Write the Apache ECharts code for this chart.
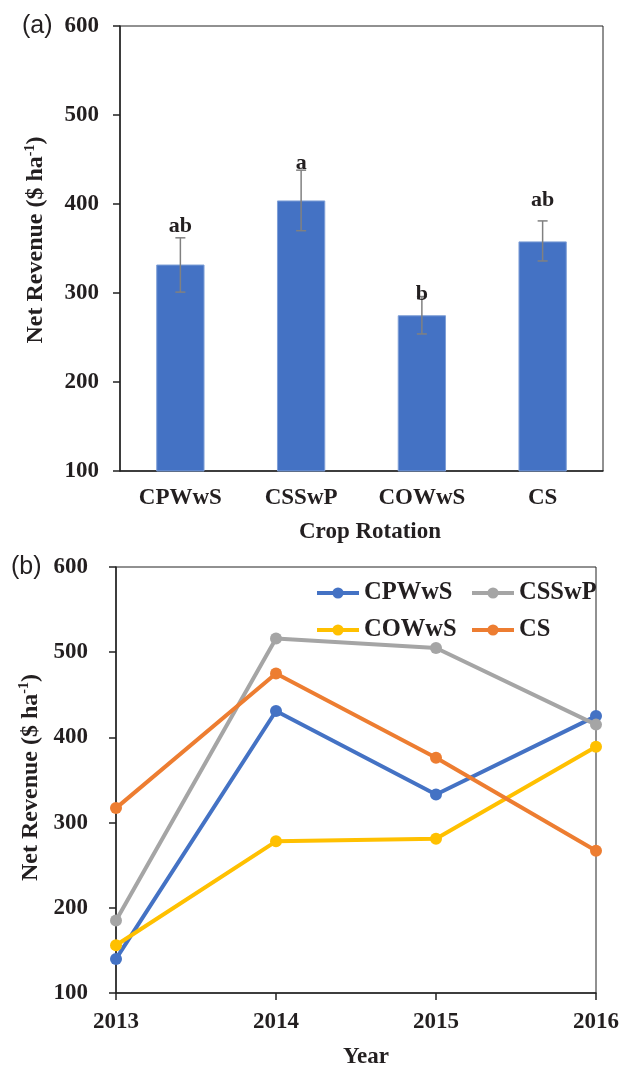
<!DOCTYPE html>
<html>
<head>
<meta charset="utf-8">
<script src="https://cdn.jsdelivr.net/npm/echarts@6/dist/echarts.min.js"></script>
<style>
html,body{margin:0;padding:0;background:#fff;}
#c{width:643px;height:1070px;}
</style>
</head>
<body>
<div id="c"></div>
<script>
// ---- Data ----
var rotations = ['CPWwS', 'CSSwP', 'COWwS', 'CS'];
var meanRevenue = [332, 404, 275, 358];
var errLow = [301, 370, 254, 336];
var errHigh = [362, 438, 296, 381];
var letters = ['ab', 'a', 'b', 'ab'];
var letterAt = [375, 446, 299, 404];

var years = ['2013', '2014', '2015', '2016'];
var CPWwS = [140, 431, 333, 425];
var CSSwP = [185, 516, 505, 415];
var COWwS = [156, 278, 281, 389];
var CS = [317, 475, 376, 267];

var yTicks = [100, 200, 300, 400, 500, 600];

// ---- Styles ----
var serif = '"Liberation Serif", "Times New Roman", serif';
var ink = '#231f20';
var sz = 23;

function yName(padLeft) {
  return {
    padding: [0, 0, 0, padLeft],
    rich: {
      t: {fontFamily: serif, fontWeight: 'bold', fontSize: 24, color: ink, lineHeight: 26},
      s: {fontFamily: serif, fontWeight: 'bold', fontSize: 14, color: ink, lineHeight: 14, verticalAlign: 'top'}
    }
  };
}

var legendText = {fontFamily: serif, fontWeight: 'bold', fontSize: 24.5, color: ink, lineHeight: 26};

var chart = echarts.init(document.getElementById('c'), null, {renderer: 'canvas'});

var option = {
  animation: false,
  backgroundColor: '#fff',
  graphic: [
    {type: 'text', left: 22, top: 14, style: {text: '(a)', font: '25px "Liberation Sans", Arial, sans-serif', fill: ink}},
    {type: 'text', left: 11, top: 555, style: {text: '(b)', font: '25px "Liberation Sans", Arial, sans-serif', fill: ink}}
  ],
  grid: [
    {left: 120, top: 26, width: 483, height: 445, show: true, borderColor: '#222', borderWidth: 1, backgroundColor: 'transparent'},
    {left: 116, top: 567, width: 480, height: 429, show: true, borderColor: '#222', borderWidth: 1, backgroundColor: 'transparent'}
  ],
  legend: [
    {
      data: ['CPWwS', 'COWwS'], orient: 'vertical', left: 315, top: 580, padding: 0,
      itemWidth: 42, itemHeight: 14, itemGap: 11,
      lineStyle: {width: 4},
      textStyle: legendText
    },
    {
      data: ['CSSwP', 'CS'], orient: 'vertical', left: 470, top: 580, padding: 0,
      itemWidth: 42, itemHeight: 14, itemGap: 11,
      lineStyle: {width: 4},
      textStyle: legendText
    }
  ],
  xAxis: [
    {
      type: 'category', gridIndex: 0, data: rotations,
      name: 'Crop Rotation', nameLocation: 'middle', nameGap: 50,
      nameTextStyle: {fontFamily: serif, fontWeight: 'bold', fontSize: sz, color: ink, padding: [0, 0, 0, 17]},
      axisLine: {lineStyle: {color: '#222', width: 1.5}},
      axisTick: {show: false},
      axisLabel: {margin: 16, fontFamily: serif, fontWeight: 'bold', fontSize: sz, color: ink}
    },
    {
      type: 'category', gridIndex: 1, data: years, boundaryGap: false,
      name: 'Year', nameLocation: 'middle', nameGap: 53,
      nameTextStyle: {fontFamily: serif, fontWeight: 'bold', fontSize: sz, color: ink, padding: [0, 0, 0, 20]},
      axisLine: {lineStyle: {color: '#222', width: 1.5}},
      axisTick: {show: true, inside: false, length: 7, lineStyle: {color: '#222', width: 1.5}},
      axisLabel: {margin: 18, fontFamily: serif, fontWeight: 'bold', fontSize: sz, color: ink}
    }
  ],
  yAxis: [
    {
      type: 'value', gridIndex: 0, min: yTicks[0], max: yTicks[yTicks.length - 1], interval: 100,
      name: '{t|Net Revenue ($ ha}{s|-1}{t|)}', nameLocation: 'middle', nameRotate: 90, nameGap: 71,
      nameTextStyle: yName(17),
      axisLine: {show: true, lineStyle: {color: '#222', width: 1.5}},
      axisTick: {show: true, inside: false, length: 7, lineStyle: {color: '#222', width: 1.5}},
      splitLine: {show: false},
      axisLabel: {margin: 21, fontFamily: serif, fontWeight: 'bold', fontSize: sz, color: ink}
    },
    {
      type: 'value', gridIndex: 1, min: yTicks[0], max: yTicks[yTicks.length - 1], interval: 100,
      name: '{t|Net Revenue ($ ha}{s|-1}{t|)}', nameLocation: 'middle', nameRotate: 90, nameGap: 70,
      nameTextStyle: yName(5),
      axisLine: {show: true, lineStyle: {color: '#222', width: 1.5}},
      axisTick: {show: true, inside: false, length: 7, lineStyle: {color: '#222', width: 1.5}},
      splitLine: {show: false},
      axisLabel: {margin: 28, fontFamily: serif, fontWeight: 'bold', fontSize: sz, color: ink}
    }
  ],
  series: [
    {
      type: 'bar', xAxisIndex: 0, yAxisIndex: 0, data: meanRevenue,
      barWidth: '40%', z: 2,
      itemStyle: {color: '#4472C4', borderColor: '#7f9fd6', borderWidth: 1}
    },
    {
      type: 'custom', xAxisIndex: 0, yAxisIndex: 0, z: 5,
      data: rotations.map(function (r, i) { return [i, errLow[i], errHigh[i], letterAt[i]]; }),
      encode: {x: 0, y: [1, 2]},
      renderItem: function (params, api) {
        var i = api.value(0);
        var lo = api.coord([i, api.value(1)]);
        var hi = api.coord([i, api.value(2)]);
        var lp = api.coord([i, api.value(3)]);
        var cap = 5;
        var st = {stroke: '#808080', lineWidth: 1.5};
        return {
          type: 'group',
          children: [
            {type: 'line', shape: {x1: lo[0], y1: lo[1], x2: hi[0], y2: hi[1]}, style: st},
            {type: 'line', shape: {x1: lo[0] - cap, y1: lo[1], x2: lo[0] + cap, y2: lo[1]}, style: st},
            {type: 'line', shape: {x1: hi[0] - cap, y1: hi[1], x2: hi[0] + cap, y2: hi[1]}, style: st},
            {type: 'text', x: lp[0], y: lp[1], z2: 10,
              style: {text: letters[params.dataIndex], font: 'bold 22px ' + serif, fill: ink, align: 'center', verticalAlign: 'middle'}}
          ]
        };
      }
    },
    {name: 'CPWwS', type: 'line', xAxisIndex: 1, yAxisIndex: 1, data: CPWwS, symbol: 'circle', symbolSize: 12,
      lineStyle: {width: 4, color: '#4472C4'}, itemStyle: {color: '#4472C4'}},
    {name: 'CSSwP', type: 'line', xAxisIndex: 1, yAxisIndex: 1, data: CSSwP, symbol: 'circle', symbolSize: 12,
      lineStyle: {width: 4, color: '#A5A5A5'}, itemStyle: {color: '#A5A5A5'}},
    {name: 'COWwS', type: 'line', xAxisIndex: 1, yAxisIndex: 1, data: COWwS, symbol: 'circle', symbolSize: 12,
      lineStyle: {width: 4, color: '#FFC000'}, itemStyle: {color: '#FFC000'}},
    {name: 'CS', type: 'line', xAxisIndex: 1, yAxisIndex: 1, data: CS, symbol: 'circle', symbolSize: 12,
      lineStyle: {width: 4, color: '#ED7D31'}, itemStyle: {color: '#ED7D31'}}
  ]
};
chart.setOption(option);
</script>
</body>
</html>
